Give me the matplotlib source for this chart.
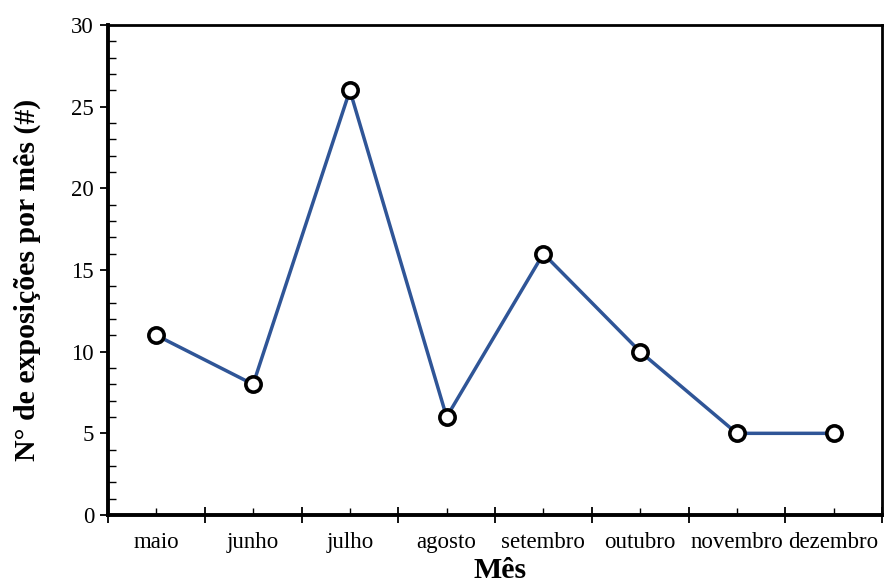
import matplotlib.pyplot as plt
import numpy as np
from matplotlib.ticker import MultipleLocator, FixedLocator

plt.rcParams['font.family'] = ['Liberation Serif', 'DejaVu Serif']

meses = ["maio", "junho", "julho", "agosto", "setembro", "outubro", "novembro", "dezembro"]
exposicoes = [11, 8, 26, 6, 16, 10, 5, 5]

x = np.arange(len(meses))

fig = plt.figure(figsize=(8.84, 5.85), dpi=100)
ax = fig.add_axes([108 / 884, 70 / 585, 774 / 884, 490 / 585])

ax.plot(x, exposicoes, color="#2F5597", linewidth=2.5, marker="o",
        markersize=11, markerfacecolor="white", markeredgecolor="black",
        markeredgewidth=2.6, zorder=3, clip_on=False)

ax.set_xlim(-0.5, len(meses) - 0.5)
ax.set_ylim(0, 30)

# y axis: major outside, minor inside
ax.yaxis.set_major_locator(MultipleLocator(5))
ax.yaxis.set_minor_locator(MultipleLocator(1))
ax.tick_params(axis="y", which="major", direction="out", length=6, width=1.3, labelsize=16.5, pad=4)
ax.tick_params(axis="y", which="minor", direction="in", length=6, width=1.0)

# x axis: category labels centred, major ticks at boundaries, minor at centres
ax.xaxis.set_major_locator(FixedLocator(np.arange(-0.5, len(meses) + 0.5, 1)))
ax.xaxis.set_major_formatter(plt.NullFormatter())
ax.set_xticks(x, meses, minor=True)
ax.tick_params(axis="x", which="major", direction="inout", length=12, width=1.3)
ax.tick_params(axis="x", which="minor", direction="in", length=5, width=1.0, labelsize=16.5, pad=12)

for side in ["left", "bottom"]:
    ax.spines[side].set_linewidth(2.8)
for side in ["top", "right"]:
    ax.spines[side].set_linewidth(2.0)

ax.set_xlabel("Mês", fontsize=21.5, fontweight="bold")
ax.xaxis.set_label_coords(0.506, -0.085)
ax.set_ylabel("N° de exposições por mês (#)", fontsize=21.5, fontweight="bold")
ax.yaxis.set_label_coords(-0.086, 0.48)

fig.savefig("out.png", dpi=100)
